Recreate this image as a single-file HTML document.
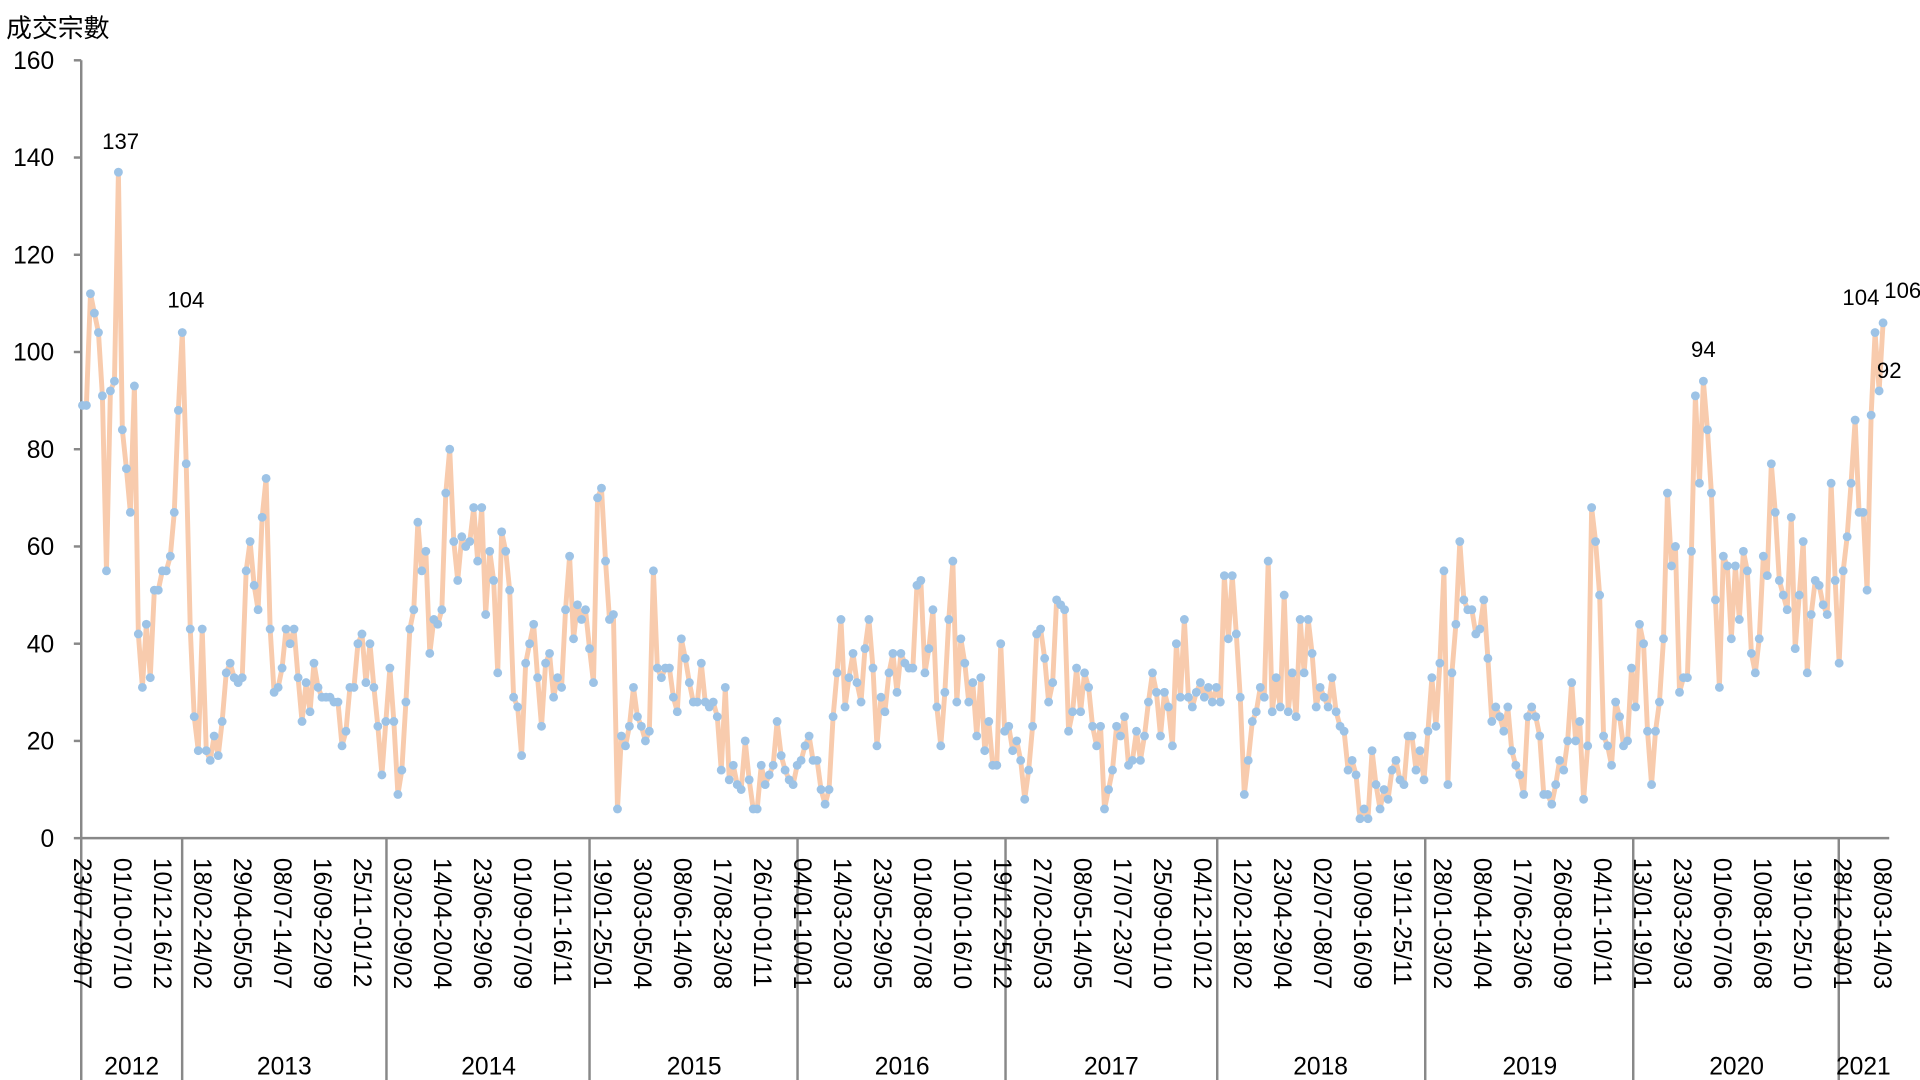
<!DOCTYPE html>
<html><head><meta charset="utf-8"><style>
html,body{margin:0;padding:0;background:#fff;overflow:hidden;}
svg{display:block;font-family:"Liberation Sans","Noto Sans CJK TC",sans-serif;}
</style></head><body>
<svg id="c" width="1920" height="1080" viewBox="0 0 1560 877.5" xmlns="http://www.w3.org/2000/svg">
<text x="5" y="30" font-size="21" font-family="Liberation Sans, Noto Sans CJK TC, sans-serif" fill="#000">成交宗數</text>
<g font-size="20" fill="#000" text-anchor="end">
<text x="44" y="688">0</text><text x="44" y="609">20</text><text x="44" y="530">40</text><text x="44" y="451">60</text>
<text x="44" y="372">80</text><text x="44" y="293">100</text><text x="44" y="214">120</text><text x="44" y="135">140</text><text x="44" y="56">160</text>
</g>
<g stroke="#888" stroke-width="2">
<line x1="66" y1="49" x2="66" y2="880"/>
<line x1="60" y1="49" x2="66" y2="49"/><line x1="60" y1="128" x2="66" y2="128"/><line x1="60" y1="207" x2="66" y2="207"/><line x1="60" y1="286" x2="66" y2="286"/><line x1="60" y1="365" x2="66" y2="365"/><line x1="60" y1="444" x2="66" y2="444"/><line x1="60" y1="523" x2="66" y2="523"/><line x1="60" y1="602" x2="66" y2="602"/><line x1="60" y1="681" x2="66" y2="681"/>
<line x1="66" y1="681" x2="1535" y2="681"/>
<line x1="148" y1="681" x2="148" y2="880"/><line x1="314" y1="681" x2="314" y2="880"/><line x1="479" y1="681" x2="479" y2="880"/><line x1="648" y1="681" x2="648" y2="880"/><line x1="817" y1="681" x2="817" y2="880"/><line x1="989" y1="681" x2="989" y2="880"/><line x1="1158" y1="681" x2="1158" y2="880"/><line x1="1327" y1="681" x2="1327" y2="880"/><line x1="1494" y1="681" x2="1494" y2="880"/>
</g>
<g id="series"></g>
<g font-size="20" fill="#000">
<text transform="translate(60,697) rotate(90)">23/07-29/07</text>
<text transform="translate(92.5,697) rotate(90)">01/10-07/10</text>
<text transform="translate(125,697) rotate(90)">10/12-16/12</text>
<text transform="translate(157.5,697) rotate(90)">18/02-24/02</text>
<text transform="translate(190,697) rotate(90)">29/04-05/05</text>
<text transform="translate(222.5,697) rotate(90)">08/07-14/07</text>
<text transform="translate(255,697) rotate(90)">16/09-22/09</text>
<text transform="translate(287.5,697) rotate(90)">25/11-01/12</text>
<text transform="translate(320,697) rotate(90)">03/02-09/02</text>
<text transform="translate(352.5,697) rotate(90)">14/04-20/04</text>
<text transform="translate(385,697) rotate(90)">23/06-29/06</text>
<text transform="translate(417.5,697) rotate(90)">01/09-07/09</text>
<text transform="translate(450,697) rotate(90)">10/11-16/11</text>
<text transform="translate(482.5,697) rotate(90)">19/01-25/01</text>
<text transform="translate(515,697) rotate(90)">30/03-05/04</text>
<text transform="translate(547.5,697) rotate(90)">08/06-14/06</text>
<text transform="translate(580,697) rotate(90)">17/08-23/08</text>
<text transform="translate(612.5,697) rotate(90)">26/10-01/11</text>
<text transform="translate(645,697) rotate(90)">04/01-10/01</text>
<text transform="translate(677.5,697) rotate(90)">14/03-20/03</text>
<text transform="translate(710,697) rotate(90)">23/05-29/05</text>
<text transform="translate(742.5,697) rotate(90)">01/08-07/08</text>
<text transform="translate(775,697) rotate(90)">10/10-16/10</text>
<text transform="translate(807.5,697) rotate(90)">19/12-25/12</text>
<text transform="translate(840,697) rotate(90)">27/02-05/03</text>
<text transform="translate(872.5,697) rotate(90)">08/05-14/05</text>
<text transform="translate(905,697) rotate(90)">17/07-23/07</text>
<text transform="translate(937.5,697) rotate(90)">25/09-01/10</text>
<text transform="translate(970,697) rotate(90)">04/12-10/12</text>
<text transform="translate(1002.5,697) rotate(90)">12/02-18/02</text>
<text transform="translate(1035,697) rotate(90)">23/04-29/04</text>
<text transform="translate(1067.5,697) rotate(90)">02/07-08/07</text>
<text transform="translate(1100,697) rotate(90)">10/09-16/09</text>
<text transform="translate(1132.5,697) rotate(90)">19/11-25/11</text>
<text transform="translate(1165,697) rotate(90)">28/01-03/02</text>
<text transform="translate(1197.5,697) rotate(90)">08/04-14/04</text>
<text transform="translate(1230,697) rotate(90)">17/06-23/06</text>
<text transform="translate(1262.5,697) rotate(90)">26/08-01/09</text>
<text transform="translate(1295,697) rotate(90)">04/11-10/11</text>
<text transform="translate(1327.5,697) rotate(90)">13/01-19/01</text>
<text transform="translate(1360,697) rotate(90)">23/03-29/03</text>
<text transform="translate(1392.5,697) rotate(90)">01/06-07/06</text>
<text transform="translate(1425,697) rotate(90)">10/08-16/08</text>
<text transform="translate(1457.5,697) rotate(90)">19/10-25/10</text>
<text transform="translate(1490,697) rotate(90)">28/12-03/01</text>
<text transform="translate(1522.5,697) rotate(90)">08/03-14/03</text>
</g>
<g font-size="20" fill="#000" text-anchor="middle">
<text x="107" y="873">2012</text><text x="231" y="873">2013</text><text x="397" y="873">2014</text><text x="564" y="873">2015</text><text x="733" y="873">2016</text><text x="903" y="873">2017</text><text x="1073" y="873">2018</text><text x="1243" y="873">2019</text><text x="1411" y="873">2020</text><text x="1514" y="873">2021</text>
</g>
<g font-size="18" fill="#000" text-anchor="middle">
<text x="98" y="121">137</text><text x="151" y="250">104</text><text x="1384" y="290">94</text><text x="1512" y="248">104</text><text x="1546" y="242">106</text><text x="1535" y="307">92</text>
</g>
</svg>
<script>
var d=[89,89,112,108,104,91,55,92,94,137,84,76,67,93,42,31,44,33,51,51,55,55,58,67,88,104,77,43,25,18,43,18,16,21,17,24,34,36,33,32,33,55,61,52,47,66,74,43,30,31,35,43,40,43,33,24,32,26,36,31,29,29,29,28,28,19,22,31,31,40,42,32,40,31,23,13,24,35,24,9,14,28,43,47,65,55,59,38,45,44,47,71,80,61,53,62,60,61,68,57,68,46,59,53,34,63,59,51,29,27,17,36,40,44,33,23,36,38,29,33,31,47,58,41,48,45,47,39,32,70,72,57,45,46,6,21,19,23,31,25,23,20,22,55,35,33,35,35,29,26,41,37,32,28,28,36,28,27,28,25,14,31,12,15,11,10,20,12,6,6,15,11,13,15,24,17,14,12,11,15,16,19,21,16,16,10,7,10,25,34,45,27,33,38,32,28,39,45,35,19,29,26,34,38,30,38,36,35,35,52,53,34,39,47,27,19,30,45,57,28,41,36,28,32,21,33,18,24,15,15,40,22,23,18,20,16,8,14,23,42,43,37,28,32,49,48,47,22,26,35,26,34,31,23,19,23,6,10,14,23,21,25,15,16,22,16,21,28,34,30,21,30,27,19,40,29,45,29,27,30,32,29,31,28,31,28,54,41,54,42,29,9,16,24,26,31,29,57,26,33,27,50,26,34,25,45,34,45,38,27,31,29,27,33,26,23,22,14,16,13,4,6,4,18,11,6,10,8,14,16,12,11,21,21,14,18,12,22,33,23,36,55,11,34,44,61,49,47,47,42,43,49,37,24,27,25,22,27,18,15,13,9,25,27,25,21,9,9,7,11,16,14,20,32,20,24,8,19,68,61,50,21,19,15,28,25,19,20,35,27,44,40,22,11,22,28,41,71,56,60,30,33,33,59,91,73,94,84,71,49,31,58,56,41,56,45,59,55,38,34,41,58,54,77,67,53,50,47,66,39,50,61,34,46,53,52,48,46,73,53,36,55,62,73,86,67,67,51,87,104,92,106];
var n=d.length,x0=67,x1=1530,dx=(x1-x0)/(n-1),pts=[],c='';
for(var i=0;i<n;i++){var x=x0+i*dx,y=681-d[i]*3.95;pts.push(x.toFixed(1)+','+y.toFixed(1));c+='<circle cx="'+x.toFixed(1)+'" cy="'+y.toFixed(1)+'" r="3.6" fill="#9DC3E6"/>';}
document.getElementById('series').innerHTML='<polyline points="'+pts.join(' ')+'" fill="none" stroke="#F8CBAD" stroke-width="4" stroke-linejoin="round"/>'+c;
</script>
</body></html>
